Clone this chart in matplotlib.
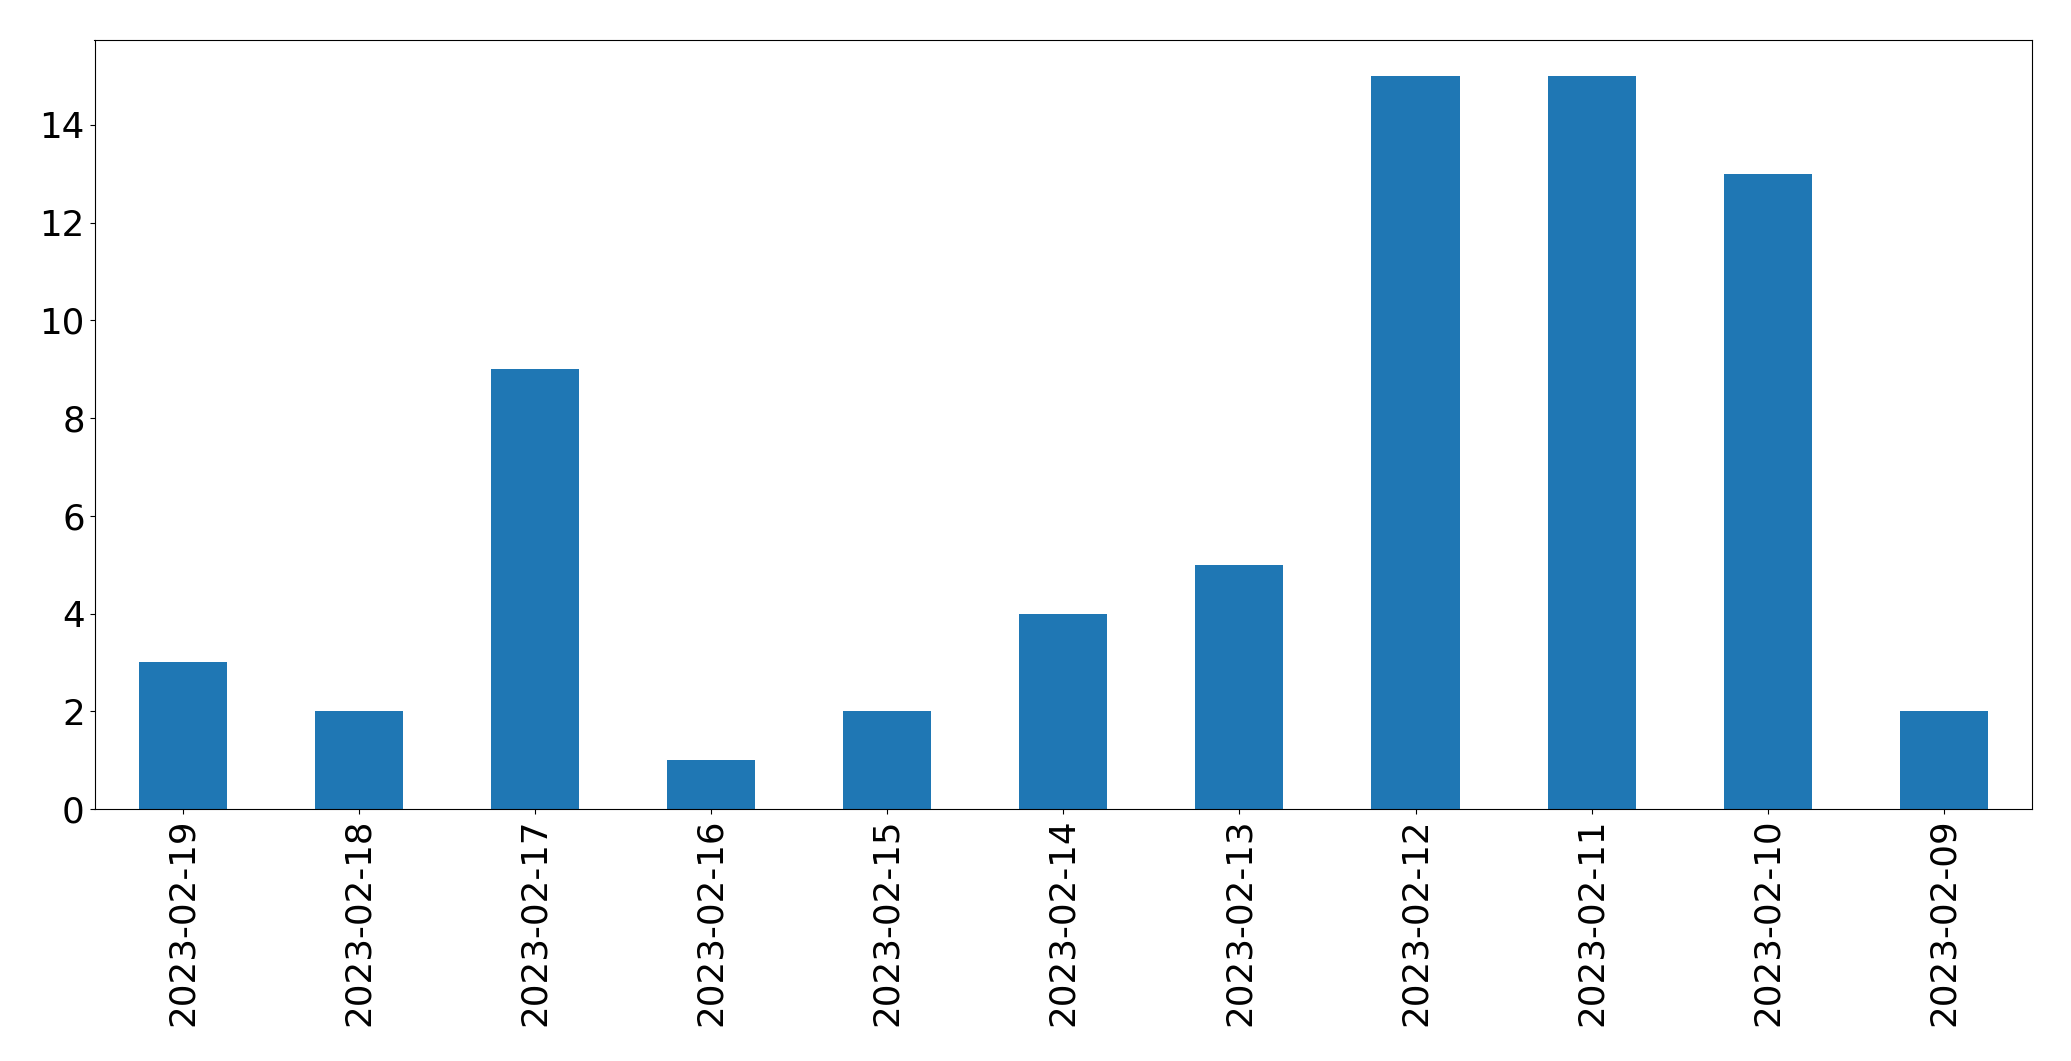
import pandas as pd
import matplotlib
matplotlib.use("Agg")
import matplotlib.pyplot as plt


dates = ["2023-02-19", "2023-02-18", "2023-02-17", "2023-02-16", "2023-02-15", "2023-02-14",
         "2023-02-13", "2023-02-12", "2023-02-11", "2023-02-10", "2023-02-09"]
counts = [3, 2, 9, 1, 2, 4, 5, 15, 15, 13, 2]

counts_by_date = pd.Series(counts, index=dates)

fig = plt.figure(figsize=(20.71, 10.61), dpi=100)
ax = fig.add_axes([94.5 / 2071, 1 - 809 / 1061, (2032 - 94.5) / 2071, (809 - 39.5) / 1061])
counts_by_date.plot(kind="bar", ax=ax, fontsize=25.7)
ax.set_xlabel("")

fig.savefig("out.png", dpi=100)
